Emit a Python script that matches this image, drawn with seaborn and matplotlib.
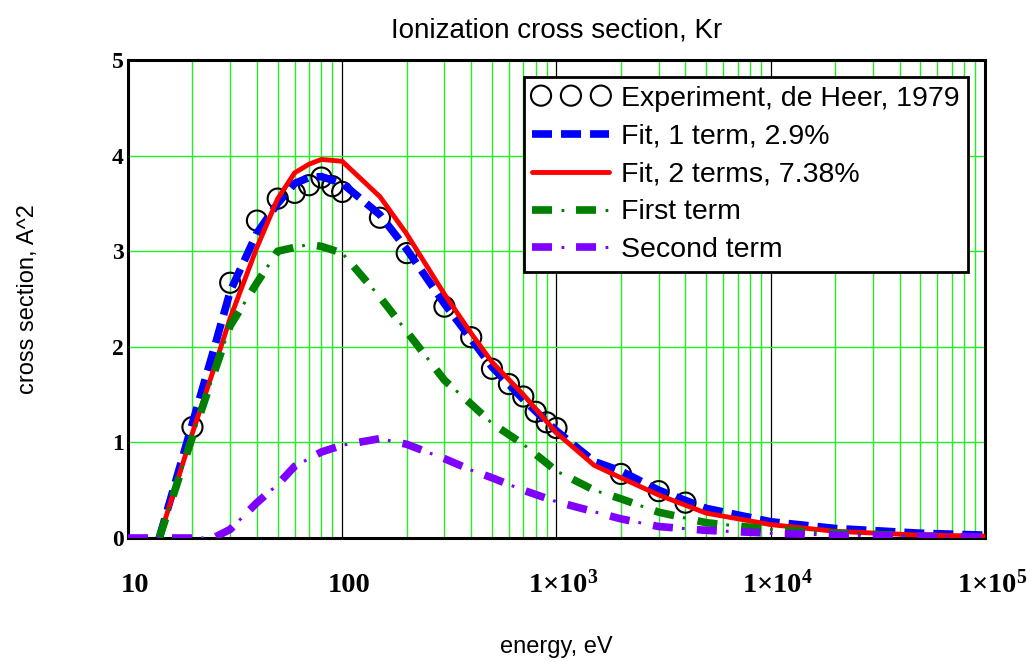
import matplotlib
matplotlib.use("Agg")
from matplotlib import pyplot as plt
from matplotlib.ticker import FixedLocator, FixedFormatter, LogLocator, NullFormatter
from matplotlib.legend_handler import HandlerTuple
import matplotlib.transforms as mtransforms
import seaborn as sns

# Experimental points (de Heer, 1979)
exp_energy = [20, 30, 40, 50, 60, 70, 80, 90, 100, 150, 200, 300, 400, 500,
              600, 700, 800, 900, 1000, 2000, 3000, 4000]
exp_sigma = [1.16, 2.67, 3.32, 3.55, 3.61, 3.69, 3.77, 3.68, 3.62, 3.35, 2.98,
             2.42, 2.10, 1.77, 1.61, 1.48, 1.32, 1.21, 1.15, 0.67, 0.49, 0.37]

# Fit curves
fit_energy = [14, 20, 25, 30, 40, 50, 60, 70, 80, 100, 150, 200, 300, 400, 500,
              700, 1000, 1500, 2000, 3000, 5000, 1e4, 2e4, 5e4, 1e5]
fit_1term = [0, 1.20, 1.95, 2.58, 3.19, 3.50, 3.71, 3.77, 3.78, 3.71, 3.38, 3.02,
             2.45, 2.08, 1.79, 1.45, 1.12, 0.80, 0.70, 0.50, 0.31, 0.17, 0.10,
             0.05, 0.03]
fit_2terms = [0, 1.10, 1.75, 2.30, 3.04, 3.55, 3.82, 3.91, 3.96, 3.94, 3.57, 3.18,
              2.55, 2.14, 1.84, 1.50, 1.10, 0.76, 0.63, 0.45, 0.26, 0.14, 0.07,
              0.03, 0.02]
first_term = [0, 1.06, 1.70, 2.22, 2.67, 3.00, 3.04, 3.07, 3.05, 2.98, 2.52, 2.16,
              1.65, 1.40, 1.20, 0.98, 0.70, 0.50, 0.41, 0.27, 0.16, 0.09, 0.05,
              0.02, 0.01]

term2_energy = [10, 25, 30, 40, 50, 60, 70, 80, 100, 150, 200, 300, 400, 500, 700,
                1000, 2000, 3000, 5000, 1e4, 2e4, 5e4, 1e5]
second_term = [0, 0, 0.09, 0.37, 0.56, 0.75, 0.83, 0.90, 0.97, 1.04, 0.98, 0.83,
               0.71, 0.63, 0.50, 0.38, 0.20, 0.12, 0.08, 0.05, 0.03, 0.02, 0.01]

x_ticks = [10, 100, 1e3, 1e4, 1e5]
x_ticklabels = ["10", "100", "1×10$^{3}$", "1×10$^{4}$", "1×10$^{5}$"]
y_ticks = [0, 1, 2, 3, 4, 5]

sns.set_style("white")
plt.rcParams["font.family"] = ["Liberation Sans", "DejaVu Sans"]
plt.rcParams["text.color"] = "black"
plt.rcParams["axes.labelcolor"] = "black"
plt.rcParams["xtick.color"] = "black"
plt.rcParams["ytick.color"] = "black"
plt.rcParams["mathtext.fontset"] = "custom"
plt.rcParams["mathtext.rm"] = "Liberation Serif:bold"
plt.rcParams["mathtext.it"] = "Liberation Serif:bold"
plt.rcParams["mathtext.bf"] = "Liberation Serif:bold"
plt.rcParams["lines.scale_dashes"] = False

fig = plt.figure(figsize=(10.27, 6.62), dpi=100)
ax = fig.add_axes([0.1246, 0.1873, 0.8345, 0.7221])

# experiment
sns.scatterplot(x=exp_energy, y=exp_sigma, ax=ax, marker="o", s=14.5 ** 2,
                color="black", linewidth=1.5, zorder=3, legend=False)
pts = ax.collections[-1]
pts.set_facecolor("none")
pts.set_edgecolor("black")

sns.lineplot(x=fit_energy, y=fit_1term, ax=ax, color="#0000ff", lw=5.5,
             linestyle=(0, (14.4, 6.5)), zorder=4)
blue = ax.lines[-1]
sns.lineplot(x=fit_energy, y=fit_2terms, ax=ax, color="#ff0000", lw=3.5, zorder=5)
red = ax.lines[-1]

# dash-dot with small dots: thick dashes + thin dots on top
sns.lineplot(x=fit_energy, y=first_term, ax=ax, color="#008000", lw=5.5,
             linestyle=(0, (14.4, 17.3)), zorder=6)
g1 = ax.lines[-1]
sns.lineplot(x=fit_energy, y=first_term, ax=ax, color="#008000", lw=2.2,
             linestyle=(10.8, (2.0, 29.7)), zorder=6)
g2 = ax.lines[-1]
sns.lineplot(x=term2_energy, y=second_term, ax=ax, color="#8000ff", lw=5.5,
             linestyle=(0, (14.4, 17.3)), zorder=7)
p1 = ax.lines[-1]
sns.lineplot(x=term2_energy, y=second_term, ax=ax, color="#8000ff", lw=2.2,
             linestyle=(10.8, (2.0, 29.7)), zorder=7)
p2 = ax.lines[-1]

ax.set_xscale("log")
ax.set_xlim(10, 1e5)
ax.set_ylim(0, 5)

ax.xaxis.set_major_locator(FixedLocator(x_ticks))
ax.xaxis.set_major_formatter(FixedFormatter(x_ticklabels))
ax.xaxis.set_minor_locator(LogLocator(base=10, subs=range(2, 10)))
ax.xaxis.set_minor_formatter(NullFormatter())
ax.set_yticks(y_ticks)

ax.set_axisbelow(True)
ax.xaxis.grid(True, which="major", color="black", lw=0.9)
ax.xaxis.grid(True, which="minor", color="#22ee22", lw=1.0)
ax.yaxis.grid(True, which="major", color="#22ee22", lw=1.0)

for sp in ax.spines.values():
    sp.set_visible(True)
    sp.set_color("black")
    sp.set_linewidth(2.2)

ax.tick_params(axis="both", which="both", length=0)
ax.tick_params(axis="x", pad=39, labelsize=20.5, labelfontfamily="Liberation Serif")
ax.tick_params(axis="y", pad=3, labelsize=17, labelfontfamily="Liberation Serif")

ax.set_title("Ionization cross section, Kr", fontsize=20, pad=16)
ax.set_xlabel("energy, eV", fontsize=17)
ax.set_ylabel("cross section, A^2", fontsize=17)
ax.xaxis.set_label_coords(0.5, -0.205)
ax.yaxis.set_label_coords(-0.104, 0.5)

leg = ax.legend(handles=[pts, blue, red, (g1, g2), (p1, p2)],
                labels=["Experiment, de Heer, 1979", "Fit, 1 term, 2.9%",
                        "Fit, 2 terms, 7.38%", "First term", "Second term"],
                handler_map={tuple: HandlerTuple(ndivide=1)},
                loc="upper right", fontsize=20.5, scatterpoints=3,
                scatteryoffsets=[0.5], handlelength=2.7, handletextpad=0.4,
                borderaxespad=0.6, labelspacing=0.42, borderpad=0.3,
                markerscale=1.0, fancybox=False, framealpha=1,
                edgecolor="black")
leg.get_frame().set_linewidth(2)
leg.set_zorder(10)

fig.canvas.draw()
offset = mtransforms.ScaledTranslation(7 / 100, 0, fig.dpi_scale_trans)
for lbl in ax.get_xticklabels():
    lbl.set_fontweight("bold")
    lbl.set_verticalalignment("baseline")
    lbl.set_transform(lbl.get_transform() + offset)
for lbl in ax.get_yticklabels():
    lbl.set_fontweight("bold")

plt.savefig("out.png", dpi=100)
